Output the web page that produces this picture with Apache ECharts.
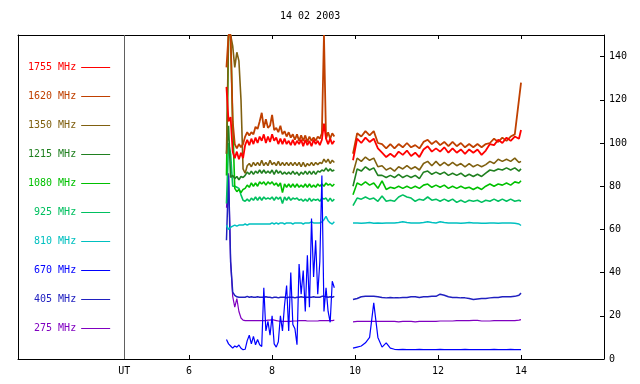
<!DOCTYPE html>
<html><head><meta charset="utf-8">
<script src="https://cdn.jsdelivr.net/npm/echarts@6/dist/echarts.min.js"></script>
<style>html,body{margin:0;padding:0;background:#fff}#c{width:640px;height:384px}</style>
</head><body><div id="c"></div>
<script>
const chartTitle = '14 02 2003';
const xMin = 1.875, xMax = 16;
const xTicks = [6, 8, 10, 12, 14];
const utHour = 4.434;
const utLabel = 'UT';
const yTicks = [0, 20, 40, 60, 80, 100, 120, 140];
const gapHour = 9.7;

const hoursA = [6.90,6.95,7.00,7.05,7.10,7.15,7.20,7.25,7.30,7.35,
  7.40,7.45,7.50,7.55,7.60,7.65,7.70,7.75,7.80,7.85,
  7.90,7.95,8.00,8.05,8.10,8.15,8.20,8.25,8.30,8.35,
  8.40,8.45,8.50,8.55,8.60,8.65,8.70,8.75,8.80,8.85,
  8.90,8.95,9.00,9.05,9.10,9.15,9.20,9.25,9.30,9.35,
  9.40,9.45,9.50];
const hoursB = [9.95,10.05,10.15,10.25,10.35,10.45,10.55,10.65,10.75,10.85,
  10.95,11.05,11.15,11.25,11.35,11.45,11.55,11.65,11.75,11.85,
  11.95,12.05,12.15,12.25,12.35,12.45,12.55,12.65,12.75,12.85,
  12.95,13.05,13.15,13.25,13.35,13.45,13.55,13.65,13.75,13.85,
  13.95,14.00];

const f1755a = [126,110,112,96,93,96,92.5,95.5,93,99,
  101.5,99,102,99.5,102.5,100,103,101,104,100,
  103,100.5,104,101,102.5,99.5,102,99.5,102,99.5,
  101,99,101.5,99,101,99.5,101.5,98.5,101.5,99,
  101,98.5,101.5,99.5,101,99,101.5,109,102,99.5,
  102,99.5,101];
const f1755b = [92,102,100,102.5,100.5,102,97.5,95.5,93.5,95,
  93.5,96,94.5,96.5,94,95.5,93.5,97,98.5,96,
  97.5,96,98,95.5,97.5,95.5,97,95,97,95.5,
  97,94.5,96.5,99.5,99,101.5,100,102.5,101,103,
  102,106];
const f1620a = [135,150,150,110,99.5,97.5,99.5,98,99.5,103,
  105,103.5,105,104,107.5,106.5,110,114,107,111,
  107,108,113,106,107,105,108,104,105.5,103,
  105,102.5,104,101.5,104,101,103.5,101,103.5,100.5,
  103,101,102.5,101,103,102,104.5,150,102,105,
  102,104.5,103];
const f1620b = [95,104.5,103,105.5,103.5,105.5,100,99.5,97.5,99.5,
  97.5,99.5,98,100,98,99,97.5,100.5,101.5,99.5,
  101,99,100.5,98.5,100.5,98.5,100,98,99.5,98,
  99.5,98,99.5,100,102,100.5,102.5,101,103,104,
  120,128];
const f1350a = [95,150,150,145,135,142,138,120,88,86,
  89.5,90.5,89,91,89.5,91,89.5,92,89.5,91,
  89.5,92,90,91,89.5,91.5,89.5,91,89.5,91,
  89.5,91,89.5,91,89.5,91,89,91,89,90.5,
  89.5,91,89.5,91,90,91,90.5,92.5,91,92.5,
  90.5,92,91];
const f1350b = [86,93,91.5,93.5,92,93,89,89.5,87.5,88.5,
  87,89,88,89.5,88,89,87.5,90.5,91.5,89.5,
  91.5,89.5,91,89.5,91,89.5,90.5,89,90.5,89,
  90,89,90,91.5,90.5,92.5,91.5,92.5,91.5,93,
  91,91.5];
const f1215a = [95,108,84,85,83.5,84.5,83,84.5,84,85,
  86.5,85.5,87,85.5,87,86,87.5,86,87.5,86,
  87,86,87.5,85.5,87.5,86,87,85.5,86.5,85.5,
  86.5,85.5,87,85.5,86.5,85,86.5,85.5,87,85.5,
  87,85.5,87,85.5,87,86.5,87.5,87,88.5,87,
  88,87,87.5];
const f1215b = [80,88,87,89,87.5,88.5,85,85,84,85,
  84,85.5,84,85,84,85,83.5,86.5,87,85.5,
  86.5,85.5,86.5,85,86,85,86,84.5,85.5,84.5,
  85.5,84.5,86,87.5,87,88,87.5,88.5,87.5,88.5,
  87,88];
const f1080a = [85,150,150,110,79,77.5,78.5,77,78.5,79,
  80.5,79.5,81.5,80,81.5,80,82,81,82,80.5,
  82,81,82,80.5,81.5,80,81.5,77,81,79.5,
  81,79.5,81,79.5,81,79.5,80.5,79.5,81,79.5,
  81,79.5,80.5,79.5,81,80,81,80,81.5,80.5,
  81,80,81];
const f1080b = [76,81.5,80.5,82,80.5,81.5,79,82.5,78.5,79.5,
  79,80,79,80,79,80,79,80.5,81,79.5,
  80.5,79.5,80.5,79,80,79,80,79,79.5,78.5,
  79.5,78.5,80,81,80,81,80.5,81.5,80.5,82,
  81.5,82.5];
const f925a = [72,100,95,80,80,79.5,79,76,73.5,73,
  74,73,74.5,73.5,75,73.5,75,73.5,75,74,
  74.5,74,75,73.5,75,74,75,72,75,73.5,
  75,73.5,74.5,74,74.5,73.5,74,73,74,73,
  74.5,73,74,73.5,74,73,74.5,74,74.5,73,
  74.5,73,74];
const f925b = [71,74.5,74,75,74,74.5,73,75.5,73,73.5,
  73,75,76,75,74.5,73,74,73.5,75,73.5,
  74,73,74,73,74,72.5,73.5,72.5,73.5,73,
  73.5,72.5,73.5,73,74,73,74,73,74,73,
  73.5,73];
const f810a = [62,60,61,61.5,62,61.5,62,62,62,62.5,
  62,62.5,62.5,62.5,62.5,62.5,62.5,62.5,62.5,62.5,
  62.5,62.5,63,62.5,63,62.5,63,63,62.5,63,
  63,63,62.5,63,63,63,63,62.5,63,63,
  63,63.5,63,63,63,63,63.5,64.5,66,64,
  63,62.5,63.5];
const f810b = [63,63,62.8,63,63.2,62.8,63,62.8,63,63,
  63,63.2,63.5,63.2,63,63,63,63.2,63.5,63.2,
  63,63.5,63.2,63,63,63,62.8,63,63.2,63,
  63,62.8,62.8,63,63,62.8,63,63,63,62.8,
  62.5,61.8];
const f670a = [9,7,6,5,6,5.5,6.5,5,4.3,4.5,
  8.5,11,7,10.5,6.6,9,6.6,5.8,33,13,
  17.4,11,20,7,5.5,8,20,13,25,34,
  13,40,16,14,6.6,44,30,41,22,48,
  24,65,38,55,30,45,85,22,33,22,
  17,36,33];
const f670b = [5,5.5,6,7.5,10,26,10,5.5,7.5,5,
  4.5,4.3,4.5,4.3,4.3,4.3,4.5,4.3,4.3,4.3,
  4.3,4.5,4.3,4.3,4.3,4.3,4.3,4.5,4.3,4.3,
  4.3,4.3,4.3,4.3,4.5,4.3,4.3,4.3,4.5,4.3,
  4.3,4.3];
const f405a = [55,85,45,31,29.5,28.8,28.6,28.6,28.6,28.6,
  29,28.6,28.8,28.6,28.6,28.8,28.6,28.6,28.6,28.8,
  28.6,28.6,28.3,28.6,28.6,28.3,28.6,28.6,28.6,28.3,
  28.6,28.6,28.6,28.3,28.6,28.6,28.8,28.6,28.6,28.6,
  28.6,28.6,28.8,28.6,28.6,28.6,29,29,28.8,28.6,
  28.8,28.6,29];
const f405b = [27.5,28,28.8,29,29,29,28.8,28.5,28.3,28.5,
  28.3,28.3,28.5,28.5,28.8,28.8,28.5,28.8,28.8,29,
  29,30,29.5,28.8,28.5,28.5,28.3,28.3,28,27.5,
  27.8,28,28,28.3,28.5,28.5,28.8,28.8,28.8,29,
  29.5,30.5];
const f275a = [70,86,45,29,24,28,22,19,18,17.8,
  17.8,17.8,17.8,17.8,17.8,17.8,17.8,17.8,17.8,17.8,
  18,18,18.2,18,17.8,17.6,17.4,17.4,17.4,17.4,
  17.4,17.4,17.6,17.6,17.6,17.8,17.8,17.8,17.8,17.6,
  17.6,17.6,17.6,17.6,17.6,17.8,17.8,17.8,17.8,17.8,
  17.8,17.8,18];
const f275b = [17.2,17.4,17.4,17.4,17.4,17.4,17.4,17.4,17.4,17.4,
  17.4,17.2,17.4,17.4,17.4,17.2,17.4,17.4,17.4,17.4,
  17.4,17.6,17.6,17.6,17.6,17.8,17.8,17.8,17.8,17.9,
  17.9,17.6,17.6,17.6,17.8,17.8,17.8,17.8,17.8,17.8,
  18,18.2];

const legendOrder = ['1755 MHz','1620 MHz','1350 MHz','1215 MHz','1080 MHz','925 MHz','810 MHz','670 MHz','405 MHz','275 MHz'];
const seriesDefs = [
  {name:'275 MHz',  color:'#8000c0', a:f275a,  b:f275b,  w:1.2},
  {name:'405 MHz',  color:'#2020c0', a:f405a,  b:f405b,  w:1.5},
  {name:'810 MHz',  color:'#00c0c0', a:f810a,  b:f810b,  w:1.5},
  {name:'925 MHz',  color:'#00c060', a:f925a,  b:f925b,  w:1.6},
  {name:'1080 MHz', color:'#00c000', a:f1080a, b:f1080b, w:1.6},
  {name:'1215 MHz', color:'#208020', a:f1215a, b:f1215b, w:1.6},
  {name:'1350 MHz', color:'#806010', a:f1350a, b:f1350b, w:1.6},
  {name:'1620 MHz', color:'#c04000', a:f1620a, b:f1620b, w:1.8},
  {name:'1755 MHz', color:'#ff0000', a:f1755a, b:f1755b, w:1.8},
  {name:'670 MHz',  color:'#0000ff', a:f670a,  b:f670b,  w:1.2}
];

const FONT = 'DejaVu Sans Mono';

function joinSegments(a, b) {
  return hoursA.map((h, i) => [h, a[i]])
    .concat([[gapHour, '-']])
    .concat(hoursB.map((h, i) => [h, b[i]]));
}

const colorOf = {};
seriesDefs.forEach(d => colorOf[d.name] = d.color);

const series = seriesDefs.map((d, idx) => {
  const s = {
    name: d.name,
    type: 'line',
    xAxisIndex: 0,
    yAxisIndex: 0,
    data: joinSegments(d.a, d.b),
    showSymbol: false,
    symbol: 'none',
    connectNulls: false,
    lineStyle: {color: d.color, width: d.w},
    itemStyle: {color: d.color},
    animation: false,
    silent: true,
    clip: true
  };
  if (idx === 0) {
    s.markLine = {
      silent: true,
      symbol: ['none', 'none'],
      label: {show: false},
      lineStyle: {color: '#606060', width: 1, type: 'solid'},
      data: [{xAxis: utHour}],
      animation: false
    };
  }
  return s;
});

const chart = echarts.init(document.getElementById('c'), null, {renderer: 'canvas'});
chart.setOption({
  backgroundColor: '#ffffff',
  animation: false,
  title: {
    text: chartTitle, left: 280, top: 11, padding: 0,
    textStyle: {fontFamily: FONT, fontSize: 10, fontWeight: 'normal', color: '#000'}
  },
  legend: {
    orient: 'vertical', align: 'right', left: 28, top: 61.5, padding: 0,
    icon: 'rect', itemWidth: 29, itemHeight: 1, itemGap: 17,
    selectedMode: false,
    textStyle: {fontFamily: FONT, fontSize: 10, lineHeight: 12},
    data: legendOrder.map(n => ({name: n, textStyle: {color: colorOf[n]}}))
  },
  grid: {left: 18, right: 36, top: 35, bottom: 25, containLabel: false},
  xAxis: [{
    type: 'value', position: 'bottom', min: xMin, max: xMax,
    axisLine: {show: true, onZero: false, lineStyle: {color: '#000', width: 1}},
    axisTick: {show: true, inside: true, length: 4, customValues: xTicks, lineStyle: {color: '#000'}},
    axisLabel: {
      show: true, customValues: [utHour].concat(xTicks), margin: 7,
      color: '#000', fontFamily: FONT, fontSize: 10,
      formatter: v => (Math.abs(v - utHour) < 0.01 ? utLabel : String(v))
    },
    splitLine: {show: false}
  }, {
    type: 'value', position: 'top', min: xMin, max: xMax,
    axisLine: {show: true, onZero: false, lineStyle: {color: '#000', width: 1}},
    axisTick: {show: true, inside: true, length: 4, customValues: xTicks, lineStyle: {color: '#000'}},
    axisLabel: {show: false},
    splitLine: {show: false}
  }],
  yAxis: [{
    type: 'value', position: 'right', min: 0, max: 150,
    axisLine: {show: true, onZero: false, lineStyle: {color: '#000', width: 1}},
    axisTick: {show: true, inside: true, length: 4, customValues: yTicks, lineStyle: {color: '#000'}},
    axisLabel: {show: true, customValues: yTicks, margin: 5, color: '#000', fontFamily: FONT, fontSize: 10},
    splitLine: {show: false}
  }, {
    type: 'value', position: 'left', min: 0, max: 150,
    axisLine: {show: true, onZero: false, lineStyle: {color: '#000', width: 1}},
    axisTick: {show: false},
    axisLabel: {show: false},
    splitLine: {show: false}
  }],
  series: series
});
</script>
</body></html>
